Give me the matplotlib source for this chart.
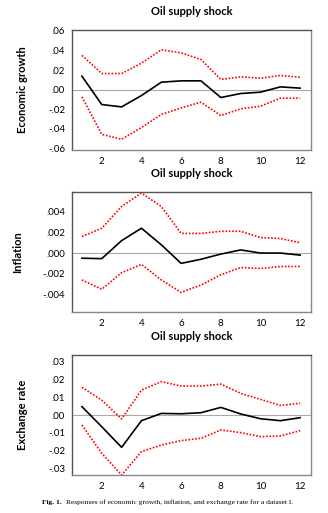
import numpy as np
import matplotlib
matplotlib.use("Agg")
import matplotlib.pyplot as plt

# horizon
steps = np.arange(1, 13)

# Economic growth response and bands
growth = [0.0137, -0.0154, -0.0178, -0.0062, 0.0075, 0.0089, 0.0089, -0.0082, -0.0041, -0.0027, 0.0027, 0.0014]
growth_hi = [0.035, 0.0164, 0.0164, 0.027, 0.0407, 0.0376, 0.0308, 0.0103, 0.013, 0.0116, 0.0144, 0.0126]
growth_lo = [-0.0075, -0.046, -0.051, -0.039, -0.0256, -0.0188, -0.013, -0.0267, -0.0198, -0.0171, -0.0089, -0.0089]

# Inflation response and bands
infl = [-0.0005, -0.00054, 0.0012, 0.0024, 0.0008, -0.001, -0.0006, -0.0001, 0.0003, 0.0, 0.0, -0.0002]
infl_hi = [0.0016, 0.0024, 0.0045, 0.0058, 0.0045, 0.0019, 0.0019, 0.0021, 0.0021, 0.0015, 0.0014, 0.001]
infl_lo = [-0.0026, -0.0035, -0.0019, -0.0011, -0.0026, -0.0038, -0.0031, -0.0021, -0.0014, -0.0015, -0.0013, -0.0013]

# Exchange rate response and bands
exch = [0.0047, -0.0066, -0.0182, -0.0032, 0.0009, 0.0007, 0.0013, 0.0043, 0.0006, -0.0021, -0.0032, -0.0015]
exch_hi = [0.0156, 0.0084, -0.0022, 0.014, 0.0188, 0.0163, 0.0163, 0.0174, 0.0122, 0.0088, 0.0054, 0.0066]
exch_lo = [-0.0056, -0.0216, -0.0338, -0.0206, -0.0169, -0.0144, -0.0131, -0.0084, -0.0099, -0.0122, -0.0118, -0.0088]

panels = [
    ("Economic growth", growth, growth_hi, growth_lo, [-0.06, -0.04, -0.02, 0, 0.02, 0.04, 0.06],
     ["-.06", "-.04", "-.02", ".00", ".02", ".04", ".06"], (-0.062, 0.061), [0.9415, 0.7076]),
    ("Inflation", infl, infl_hi, infl_lo, [-0.004, -0.002, 0, 0.002, 0.004],
     ["-.004", "-.002", ".000", ".002", ".004"], (-0.0057, 0.0059), [0.6257, 0.3918]),
    ("Exchange rate", exch, exch_hi, exch_lo, [-0.03, -0.02, -0.01, 0, 0.01, 0.02, 0.03],
     ["-.03", "-.02", "-.01", ".00", ".01", ".02", ".03"], (-0.0338, 0.0338), [0.308, 0.074]),
]

plt.rcParams['font.family'] = ['Lato', 'DejaVu Sans']
fig = plt.figure(figsize=(3.28, 5.13), dpi=100)

for name, mid, hi, lo, yt, ytl, ylim, (top, bot) in panels:
    ax = fig.add_axes([0.2195, bot, 0.729, top - bot])
    ax.axhline(0, color="#aaaaaa", lw=0.8)
    ax.plot(steps, hi, color="red", lw=1.2, ls=(0, (1, 1)))
    ax.plot(steps, lo, color="red", lw=1.2, ls=(0, (1, 1)))
    ax.plot(steps, mid, color="black", lw=1.2)
    ax.set_xlim(0.5, 12.55)
    ax.set_ylim(*ylim)
    ax.set_xticks([2, 4, 6, 8, 10, 12])
    ax.set_yticks(yt)
    ax.set_yticklabels(ytl)
    ax.tick_params(length=0, labelsize=7, pad=5)
    for s in ["top", "left"]:
        ax.spines[s].set_color("#555555")
    for s in ["bottom", "right"]:
        ax.spines[s].set_color("#888888")
    for s in ax.spines.values():
        s.set_linewidth(1.0)
    ax.set_title("Oil supply shock", fontsize=8, fontweight="bold", pad=11)
    ax.set_ylabel(name, fontsize=8, fontweight="bold", labelpad=14)

t1 = fig.text(0.128, 0.021, "Fig. 1.", ha="left", va="center", fontsize=5.4,
              fontweight="bold", family="Liberation Serif")
ax.annotate("Responses of economic growth, inflation, and exchange rate for a dataset I.",
            xy=(1, 0.5), xycoords=t1, xytext=(3, 0), textcoords="offset points",
            ha="left", va="center", fontsize=5.4, family="Liberation Serif",
            annotation_clip=False)

fig.savefig("out.png", dpi=100)
